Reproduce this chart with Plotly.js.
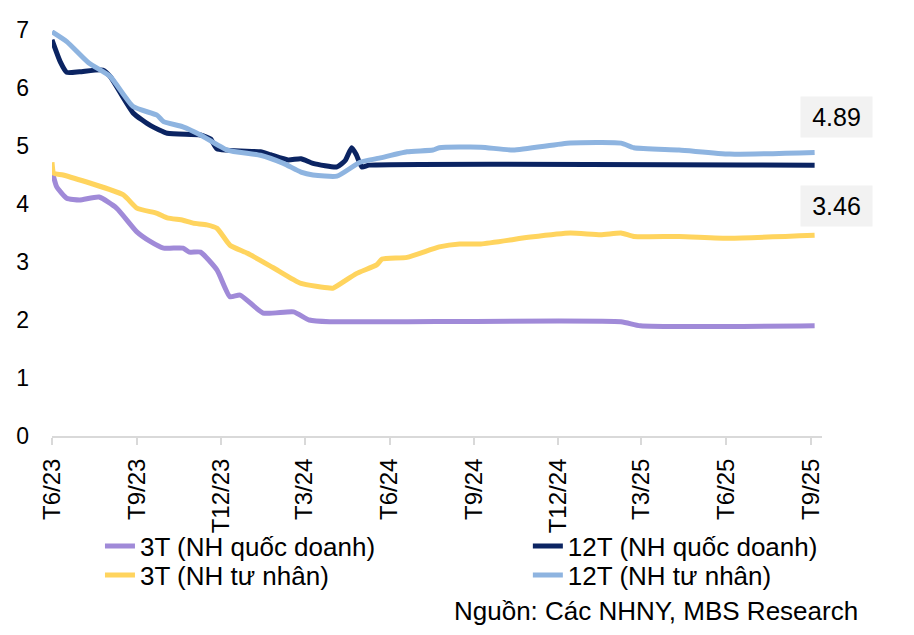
<!DOCTYPE html>
<html>
<head>
<meta charset="utf-8">
<script src="https://cdn.plot.ly/plotly-3.0.1.min.js"></script>
<style>html,body{margin:0;padding:0;background:#fff;}#chart{width:914px;height:635px;}</style>
</head>
<body>
<div id="chart"></div>
<script>
// Tick labels
const tickDates = ['2023-06-01','2023-09-01','2023-12-01','2024-03-01','2024-06-01','2024-09-01','2024-12-01','2025-03-01','2025-06-01','2025-09-01'];
const tickLabels = ['T6/23','T9/23','T12/23','T3/24','T6/24','T9/24','T12/24','T3/25','T6/25','T9/25'];

// 3T (NH quốc doanh)
const dates3QD = ['2023-06-01','2023-06-06','2023-06-17','2023-07-01','2023-07-22','2023-08-10','2023-09-01','2023-09-15','2023-09-30','2023-10-21','2023-10-28','2023-11-09','2023-11-27','2023-12-11','2023-12-22','2024-01-16','2024-02-18','2024-03-06','2024-03-28','2025-02-07','2025-02-28','2025-09-05'];
const vals3QD  = [4.58,4.30,4.10,4.07,4.12,3.93,3.52,3.36,3.24,3.24,3.17,3.17,2.86,2.40,2.43,2.12,2.14,2.00,1.97,1.97,1.90,1.90];

// 12T (NH quốc doanh)
const dates12QD = ['2023-06-01','2023-06-10','2023-06-17','2023-07-01','2023-07-26','2023-08-03','2023-08-28','2023-09-16','2023-10-04','2023-11-09','2023-11-20','2023-11-27','2024-01-13','2024-01-24','2024-02-12','2024-02-26','2024-03-10','2024-04-05','2024-04-14','2024-04-21','2024-04-26','2024-05-02','2024-05-10','2025-09-05'];
const vals12QD  = [6.83,6.45,6.27,6.28,6.31,6.20,5.57,5.35,5.22,5.19,5.12,4.95,4.90,4.85,4.76,4.78,4.70,4.64,4.75,4.97,4.85,4.64,4.67,4.67];

// 3T (NH tư nhân)
const dates3TN = ['2023-06-01','2023-06-03','2023-06-13','2023-08-17','2023-09-01','2023-09-23','2023-10-04','2023-10-21','2023-11-01','2023-11-16','2023-11-27','2023-12-11','2023-12-30','2024-01-27','2024-02-26','2024-03-28','2024-04-01','2024-04-26','2024-05-18','2024-05-24','2024-06-20','2024-07-25','2024-08-16','2024-09-08','2024-11-01','2024-12-14','2025-01-16','2025-02-07','2025-02-21','2025-04-11','2025-06-05','2025-09-05'];
const vals3TN  = [4.72,4.53,4.50,4.16,3.93,3.84,3.76,3.72,3.67,3.64,3.58,3.29,3.15,2.90,2.63,2.55,2.55,2.80,2.95,3.05,3.08,3.26,3.31,3.31,3.43,3.50,3.47,3.50,3.44,3.44,3.41,3.46];

// 12T (NH tư nhân)
const dates12TN = ['2023-06-01','2023-06-17','2023-07-11','2023-08-03','2023-08-28','2023-09-23','2023-09-30','2023-10-21','2023-11-09','2023-12-08','2024-01-13','2024-02-07','2024-02-26','2024-03-10','2024-04-05','2024-04-30','2024-05-21','2024-06-20','2024-07-18','2024-07-25','2024-09-08','2024-10-13','2024-12-14','2025-02-07','2025-02-21','2025-04-11','2025-06-05','2025-09-05'];
const vals12TN  = [6.97,6.80,6.43,6.20,5.68,5.53,5.42,5.33,5.19,4.93,4.84,4.70,4.55,4.50,4.48,4.72,4.79,4.90,4.93,4.97,4.98,4.93,5.05,5.05,4.97,4.93,4.86,4.89];

const FONT = '"Liberation Sans", Arial, sans-serif';
const colors = {p:'#a08ad8', n:'#0b2462', y:'#ffd45e', b:'#8eb4e0'};

function tr(x, y, name, color, leg){
  return {x:x, y:y, name:name, type:'scatter', mode:'lines', legend:leg,
    line:{color:color, width:5, shape:'spline', smoothing:0.5},
    hoverinfo:'x+y'};
}
const data = [
  tr(dates3QD, vals3QD, '3T (NH quốc doanh)', colors.p, 'legend'),
  tr(dates12QD, vals12QD, '12T (NH quốc doanh)', colors.n, 'legend2'),
  tr(dates3TN, vals3TN, '3T (NH tư nhân)', colors.y, 'legend3'),
  tr(dates12TN, vals12TN, '12T (NH tư nhân)', colors.b, 'legend4')
];

const last12TN = vals12TN[vals12TN.length-1];
const last3TN = vals3TN[vals3TN.length-1];

function leg(x, y){
  return {orientation:'v', x:x, xanchor:'left', y:y, yanchor:'middle',
    font:{family:FONT, size:26, color:'#000'}, bgcolor:'rgba(0,0,0,0)', borderwidth:0};
}

const layout = {
  width:914, height:635,
  margin:{l:52, r:92, t:30, b:199},
  paper_bgcolor:'#ffffff', plot_bgcolor:'#ffffff',
  font:{family:FONT, color:'#000', size:23},
  showlegend:true,
  legend: leg(0.0623, -0.2709),
  legend2: leg(0.618, -0.2709),
  legend3: leg(0.0623, -0.3424),
  legend4: leg(0.618, -0.3424),
  xaxis:{type:'date', range:['2023-06-01','2025-09-13'], tickmode:'array',
    tickvals:tickDates, ticktext:tickLabels, tickangle:-90,
    showgrid:false, zeroline:false, showline:true, linecolor:'#d9d9d9', linewidth:2,
    ticks:'outside', ticklen:7, tickcolor:'#d9d9d9', tickwidth:2, ticklabelstandoff:4,
    tickfont:{family:FONT, size:24, color:'#000'}, fixedrange:true},
  yaxis:{range:[0,7], dtick:1, tick0:0, showgrid:false, zeroline:false, showline:false,
    ticks:'', ticklabelstandoff:22, tickfont:{family:FONT, size:23, color:'#000'}, fixedrange:true},
  annotations:[
    {x:dates12TN[dates12TN.length-1], y:last12TN, xref:'x', yref:'y', text:last12TN.toFixed(2),
      showarrow:false, xanchor:'center', yanchor:'bottom', xshift:22, yshift:14,
      bgcolor:'#f2f2f2', width:69, height:38, font:{family:FONT, size:25, color:'#000'}},
    {x:dates3TN[dates3TN.length-1], y:last3TN, xref:'x', yref:'y', text:last3TN.toFixed(2),
      showarrow:false, xanchor:'center', yanchor:'bottom', xshift:22, yshift:8,
      bgcolor:'#f2f2f2', width:69, height:38, font:{family:FONT, size:25, color:'#000'}},
    {x:1.049, y:-0.431, xref:'paper', yref:'paper', text:'Nguồn: Các NHNY, MBS Research',
      showarrow:false, xanchor:'right', yanchor:'middle', font:{family:FONT, size:26, color:'#000'}}
  ]
};

Plotly.newPlot('chart', data, layout, {displayModeBar:false, staticPlot:true});
</script>
</body>
</html>
